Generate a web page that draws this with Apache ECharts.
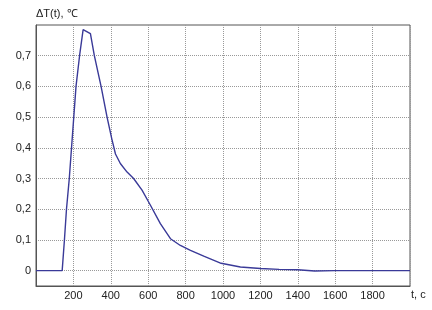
<!DOCTYPE html>
<html><head><meta charset="utf-8">
<script src="https://cdn.jsdelivr.net/npm/echarts@6/dist/echarts.min.js"></script>
<style>html,body{margin:0;padding:0;background:#fff}#c{width:432px;height:310px}</style>
</head><body><div id="c"></div>
<script>
const times  = [0,140,152,163,178,190,202,214,233,252,291,312,348,380,405,425,451,487,522,567,612,665,719,772,826,897,990,1093,1200,1300,1400,1490,1600,1800,2000];
const deltaT = [0,0,0.1,0.2,0.3,0.4,0.5,0.6,0.7,0.785,0.772,0.7,0.6,0.5,0.43,0.38,0.349,0.321,0.30,0.262,0.213,0.153,0.104,0.082,0.066,0.047,0.024,0.012,0.007,0.004,0.003,-0.001,0,0,0];
const yTicks = [0,0.1,0.2,0.3,0.4,0.5,0.6,0.7];
const xTicks = [200,400,600,800,1000,1200,1400,1600,1800];
const yTitle = 'ΔT(t), ℃';
const xTitle = 't, c';

const chart = echarts.init(document.getElementById('c'));
const font = 'Liberation Sans';
chart.setOption({
  animation:false,
  grid:{left:36,right:22,top:25,bottom:24,show:true,borderColor:'#555',borderWidth:1,backgroundColor:'#fff'},
  graphic:[
    {type:'text',left:36,top:8,style:{text:yTitle,font:'11px "Liberation Sans"',fill:'#222'}},
    {type:'text',left:411,top:289,style:{text:xTitle,font:'11px "Liberation Sans"',fill:'#222'}}
  ],
  xAxis:{type:'value',min:0,max:2000,interval:200,
    axisLine:{show:true,onZero:false,lineStyle:{color:'#555'}},axisTick:{show:false},
    axisLabel:{fontFamily:font,fontSize:11,color:'#222',margin:4,
      formatter:v=>xTicks.includes(v)?String(v):''},
    splitLine:{show:true,lineStyle:{color:'#999',type:[1,1],width:1}}},
  yAxis:{type:'value',min:-0.05,max:0.8,
    axisLine:{show:true,lineStyle:{color:'#555'}},
    axisTick:{show:false,customValues:yTicks},
    axisLabel:{fontFamily:font,fontSize:11,color:'#222',margin:5,customValues:yTicks,
      formatter:v=>Math.abs(v)<1e-9?'0':v.toFixed(1).replace('.',',')},
    splitLine:{show:true,lineStyle:{color:'#999',type:[1,1],width:1}}},
  series:[{type:'line',data:times.map((t,i)=>[t,deltaT[i]]),showSymbol:false,
    lineStyle:{color:'#3a3a98',width:1.4},smooth:false}]
});
</script></body></html>
